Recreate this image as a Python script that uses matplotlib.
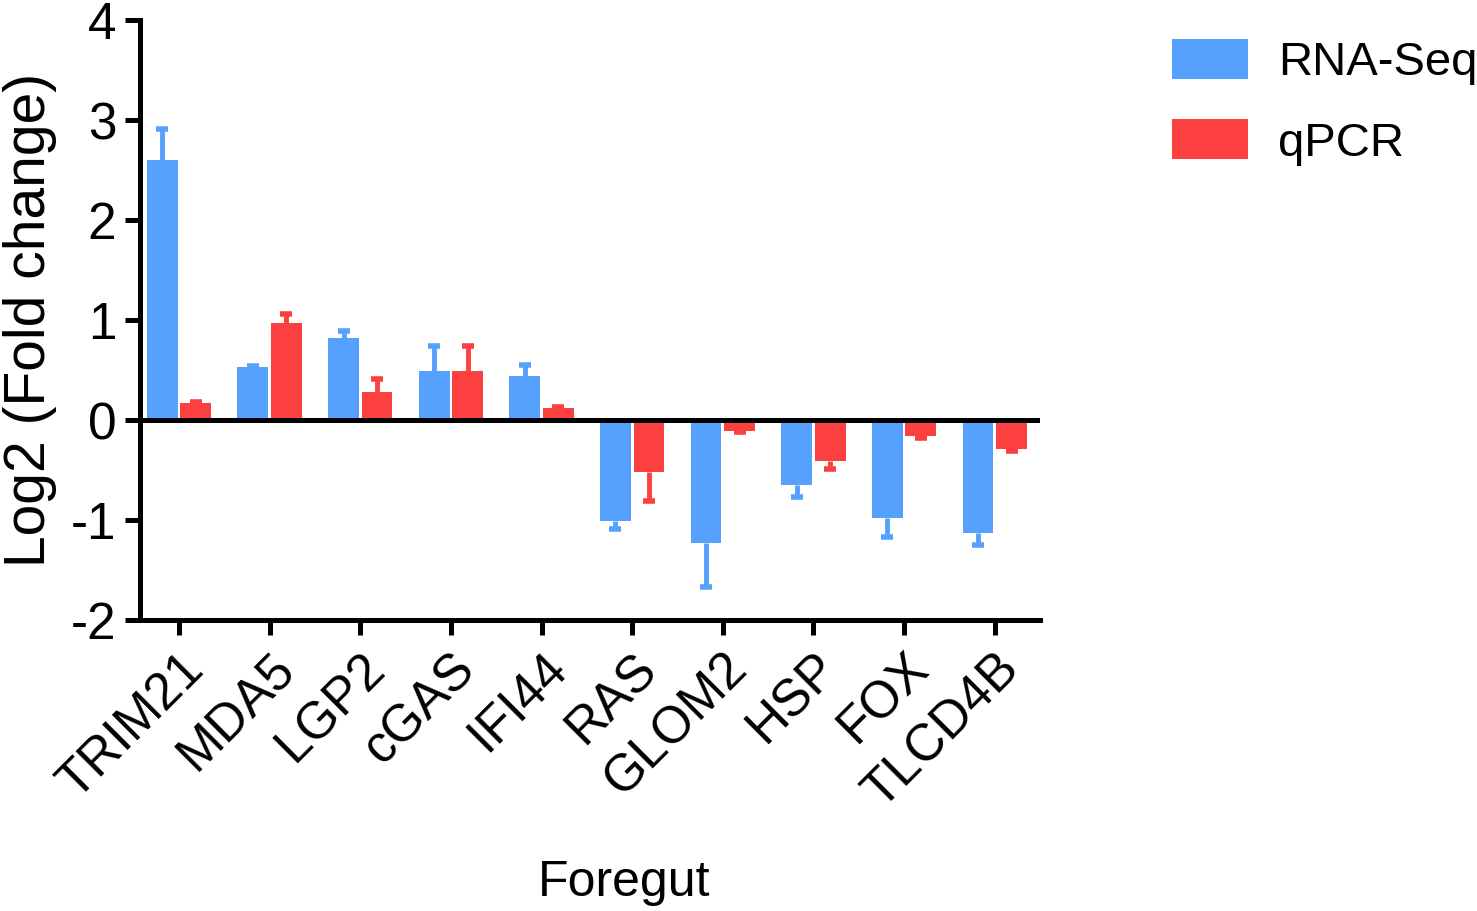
import matplotlib
matplotlib.use("Agg")
import matplotlib.pyplot as plt
import numpy as np

plt.rcParams['font.family'] = ['Liberation Sans', 'DejaVu Sans']
plt.rcParams['axes.unicode_minus'] = False

# data
genes = ["TRIM21", "MDA5", "LGP2", "cGAS", "IFI44", "RAS", "GLOM2", "HSP", "FOX", "TLCD4B"]
rnaseq = [2.60, 0.53, 0.82, 0.49, 0.44, -1.01, -1.23, -0.65, -0.98, -1.13]
rnaseq_err = [0.31, 0.01, 0.07, 0.25, 0.11, 0.08, 0.44, 0.12, 0.19, 0.12]
qpcr = [0.17, 0.97, 0.28, 0.49, 0.12, -0.52, -0.11, -0.41, -0.16, -0.29]
qpcr_err = [0.01, 0.09, 0.13, 0.25, 0.01, 0.29, 0.01, 0.08, 0.02, 0.02]

blue = "#55A1FD"
red = "#FC3F3F"


def draw_err(ax, xs, vals, errs, color):
    # error bar only points away from zero, cap at the tip only
    tips = [v + e if v >= 0 else v - e for v, e in zip(vals, errs)]
    ax.vlines(xs, vals, tips, color=color, lw=3.5, zorder=1)
    ax.plot(xs, tips, ls="none", marker="_", ms=9, mew=4, color=color, zorder=1)


fig = plt.figure(figsize=(14.77, 9.11), dpi=100)
ax = fig.add_axes([0.0948, 0.3194, 0.6094, 0.6586])

x = np.arange(len(genes))
w = 0.34
off = 0.185

ax.bar(x - off, rnaseq, w, color=blue, label="RNA-Seq", zorder=2)
ax.bar(x + off, qpcr, w, color=red, label="qPCR", zorder=2)
draw_err(ax, x - off, rnaseq, rnaseq_err, blue)
draw_err(ax, x + off, qpcr, qpcr_err, red)

ax.axhline(0, color="black", lw=3.6, zorder=3)

ax.set_xlim(-0.43, 9.5)
ax.set_ylim(-2, 4)
ax.set_yticks(range(-2, 5))
ax.set_xticks(x)
ax.set_xticklabels(genes, rotation=45, ha="right", rotation_mode="anchor")

for s in ["top", "right"]:
    ax.spines[s].set_visible(False)
for s in ["left", "bottom"]:
    ax.spines[s].set_linewidth(3.6)
ax.tick_params(axis="both", width=3.6, length=11, labelsize=37, pad=6)

ax.set_ylabel("Log2 (Fold change)", fontsize=41, labelpad=10)
ax.set_xlabel("Foregut", fontsize=36)
ax.xaxis.set_label_coords(0.538, -0.40)

fig.legend(loc="upper left", bbox_to_anchor=(0.7935, 0.957), frameon=False,
           fontsize=34, handlelength=1.6, handleheight=0.92, handletextpad=0.65,
           labelspacing=0.72, borderpad=0, borderaxespad=0)

fig.savefig("out.png", dpi=100)
